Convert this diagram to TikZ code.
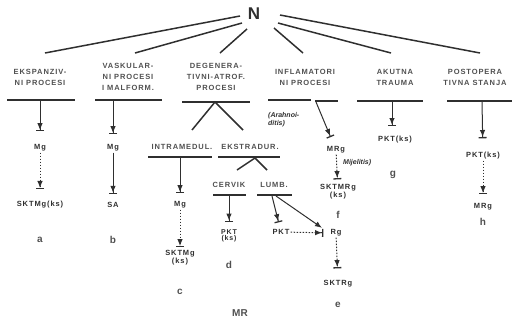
\documentclass[tikz,border=0pt]{standalone}
\usepackage{fontspec}
\setmainfont{Liberation Sans}
\newfontfamily\handfont[LetterSpace=12]{Liberation Sans}
\usetikzlibrary{arrows.meta}
\definecolor{inkgray}{HTML}{2F2F2F}
\definecolor{labelgray}{HTML}{505050}

\begin{document}
\begin{tikzpicture}[x=1pt,y=-1pt,
  cat/.style={align=center,text=labelgray,inner sep=0pt,font=\handfont\bfseries\fontsize{7.5}{11}\selectfont},
  term/.style={align=center,text=inkgray,inner sep=1pt,font=\handfont\bfseries\fontsize{7.5}{8}\selectfont},
  note/.style={anchor=west,align=left,text=inkgray,inner sep=0pt,font=\bfseries\itshape\fontsize{7}{8}\selectfont},
  tag/.style={text=labelgray,font=\bfseries\fontsize{10}{10}\selectfont},
  rule/.style={line width=1.2pt,draw=inkgray},
  leg/.style={line width=1.5pt,draw=inkgray},
  tee/.style={line width=1pt,draw=inkgray,shorten >=6pt,
    -{Latex[length=7pt,width=5.5pt]Bar[width=8pt,line width=1.3pt]}},
  soft/.style={tee,dash pattern=on 1.6pt off 1.4pt}]
\useasboundingbox (0,0) rectangle (512,325);

% root and fan
\node[text=inkgray,font=\bfseries\fontsize{17}{17}\selectfont] (root) at (254,14) {N};
\coordinate (f1) at (240,16); \coordinate (e1) at (45,53);
\coordinate (f2) at (242,23); \coordinate (e2) at (135,53);
\coordinate (f3) at (247,29); \coordinate (e3) at (220,53);
\coordinate (f4) at (274,28); \coordinate (e4) at (303,53);
\coordinate (f5) at (278,23); \coordinate (e5) at (391,53);
\coordinate (f6) at (280,15); \coordinate (e6) at (480,53);
\foreach \i in {1,...,6}{%
  \draw[leg] (f\i) -- (e\i);
}

% groups
\node[cat] (eks) at (40,77) {EKSPANZIV-\\NI PROCESI};
\node[cat] (vas) at (128,77) {VASKULAR-\\NI PROCESI\\I MALFORM.};
\node[cat] (deg) at (216,77) {DEGENERA-\\TIVNI-ATROF.\\PROCESI};
\node[cat] (inf) at (305,77) {INFLAMATORI\\NI PROCESI};
\node[cat] (aku) at (395,77) {AKUTNA\\TRAUMA};
\node[cat] (pos) at (475,77) {POSTOPERA\\TIVNA STANJA};
\draw[rule] (7,100) -- (75,100);
\draw[rule] (95,100) -- (162,100);
\draw[rule] (182,102) -- (250,102);
\draw[rule] (268,100) -- (311,100);
\draw[rule] (315,101) -- (338,101);
\draw[rule] (357,101) -- (423,101);
\draw[rule] (447,101) -- (512,101);

% a
\coordinate (ra) at (40,100);
\node[term] (mgA) at (40,148) {Mg};
\node[term] (sktA) at (40,205) {SKTMg(ks)};
\node[tag] (ta) at (40,240) {a};
\draw[tee,shorten >=12pt] (ra) -- (mgA);
\draw[soft,shorten >=11pt] (mgA) -- (sktA);

% b
\coordinate (rb) at (113,100);
\node[term] (mgB) at (113,148) {Mg};
\node[term] (saB) at (113,205) {SA};
\node[tag] (tb) at (113,240) {b};
\draw[tee,shorten >=9pt] (rb) -- (mgB);
\draw[tee,shorten >=7pt] (mgB) -- (saB);

% degenerative split
\coordinate (rd) at (215,102);
\coordinate (dl) at (192,130);
\coordinate (dr) at (243,130);
\draw[leg] (dl) -- (rd) -- (dr);
\node[cat] (intra) at (182,147) {INTRAMEDUL.};
\node[cat] (ekst) at (250,147) {EKSTRADUR.};
\draw[rule] (148,157) -- (212,157);
\draw[rule] (218,157) -- (280,157);

% c
\coordinate (rc) at (180,157);
\node[term] (mgC) at (180,205) {Mg};
\node[term] (sktC) at (180,258) {SKTMg\\(ks)};
\node[tag] (tc) at (180,292) {c};
\draw[tee,shorten >=7pt] (rc) -- (mgC);
\draw[soft,shorten >=2pt] (mgC) -- (sktC);

% extradural split
\coordinate (rx) at (255,158);
\coordinate (xl) at (237,170);
\coordinate (xr) at (267,170);
\draw[leg] (xl) -- (rx) -- (xr);
\node[cat] (cerv) at (229,185) {CERVIK};
\node[cat] (lumb) at (274,185) {LUMB.};
\draw[rule] (213,195) -- (246,195);
\draw[rule] (257,195) -- (292,195);

% d
\coordinate (rcv) at (229,195);
\node[term,font=\handfont\bfseries\fontsize{7}{5.5}\selectfont] (pktD) at (229,236) {PKT\\(ks)};
\node[tag] (td) at (229,265) {d};
\draw[tee,shorten >=7pt] (rcv) -- (pktD);

% e
\coordinate (rl) at (272,196);
\coordinate (rl2) at (276,196);
\node[term] (pktE) at (281,232) {PKT};
\node[term] (rgE) at (336,233) {Rg};
\node[term] (sktE) at (338,284) {SKTRg};
\node[tag] (te) at (338,305) {e};
\draw[tee,shorten >=6pt] (rl) -- (pktE);
\draw[line width=1pt,draw=inkgray,shorten >=9pt,-{Latex[length=7pt,width=5.5pt]}] (rl2) -- (rgE.west);
\draw[soft,shorten >=6pt] (pktE) -- (rgE);
\draw[soft,shorten >=11pt] (rgE) -- (sktE);

% f
\coordinate (ri) at (316,102);
\node[note] (arah) at (268,120) {(Arahnoi-\\ditis)};
\node[term] (mrgF) at (336,150) {MRg};
\node[note] (mije) at (343,163) {Mijelitis)};
\node[term] (sktF) at (338,192) {SKTMRg\\(ks)};
\node[tag] (tf) at (338,215) {f};
\draw[tee,shorten >=9pt] (ri) -- (mrgF);
\draw[soft,shorten >=4pt] (mrgF) -- (sktF);

% g
\coordinate (rg) at (392,101);
\node[term] (pktG) at (395,140) {PKT(ks)};
\node[tag] (tg) at (393,175) {g};
\draw[tee,shorten >=9pt] (rg) -- (pktG.north-|rg);

% h
\coordinate (rh) at (482,101);
\node[term] (pktH) at (483,156) {PKT(ks)};
\node[term] (mrgH) at (483,207) {MRg};
\node[tag] (th) at (483,222) {h};
\draw[tee,shorten >=13pt] (rh) -- (pktH);
\draw[soft,shorten >=8pt] (pktH) -- (mrgH);

\node[tag,font=\bfseries\fontsize{10}{10}\selectfont] (mr) at (240,313) {MR};
\end{tikzpicture}
\end{document}
